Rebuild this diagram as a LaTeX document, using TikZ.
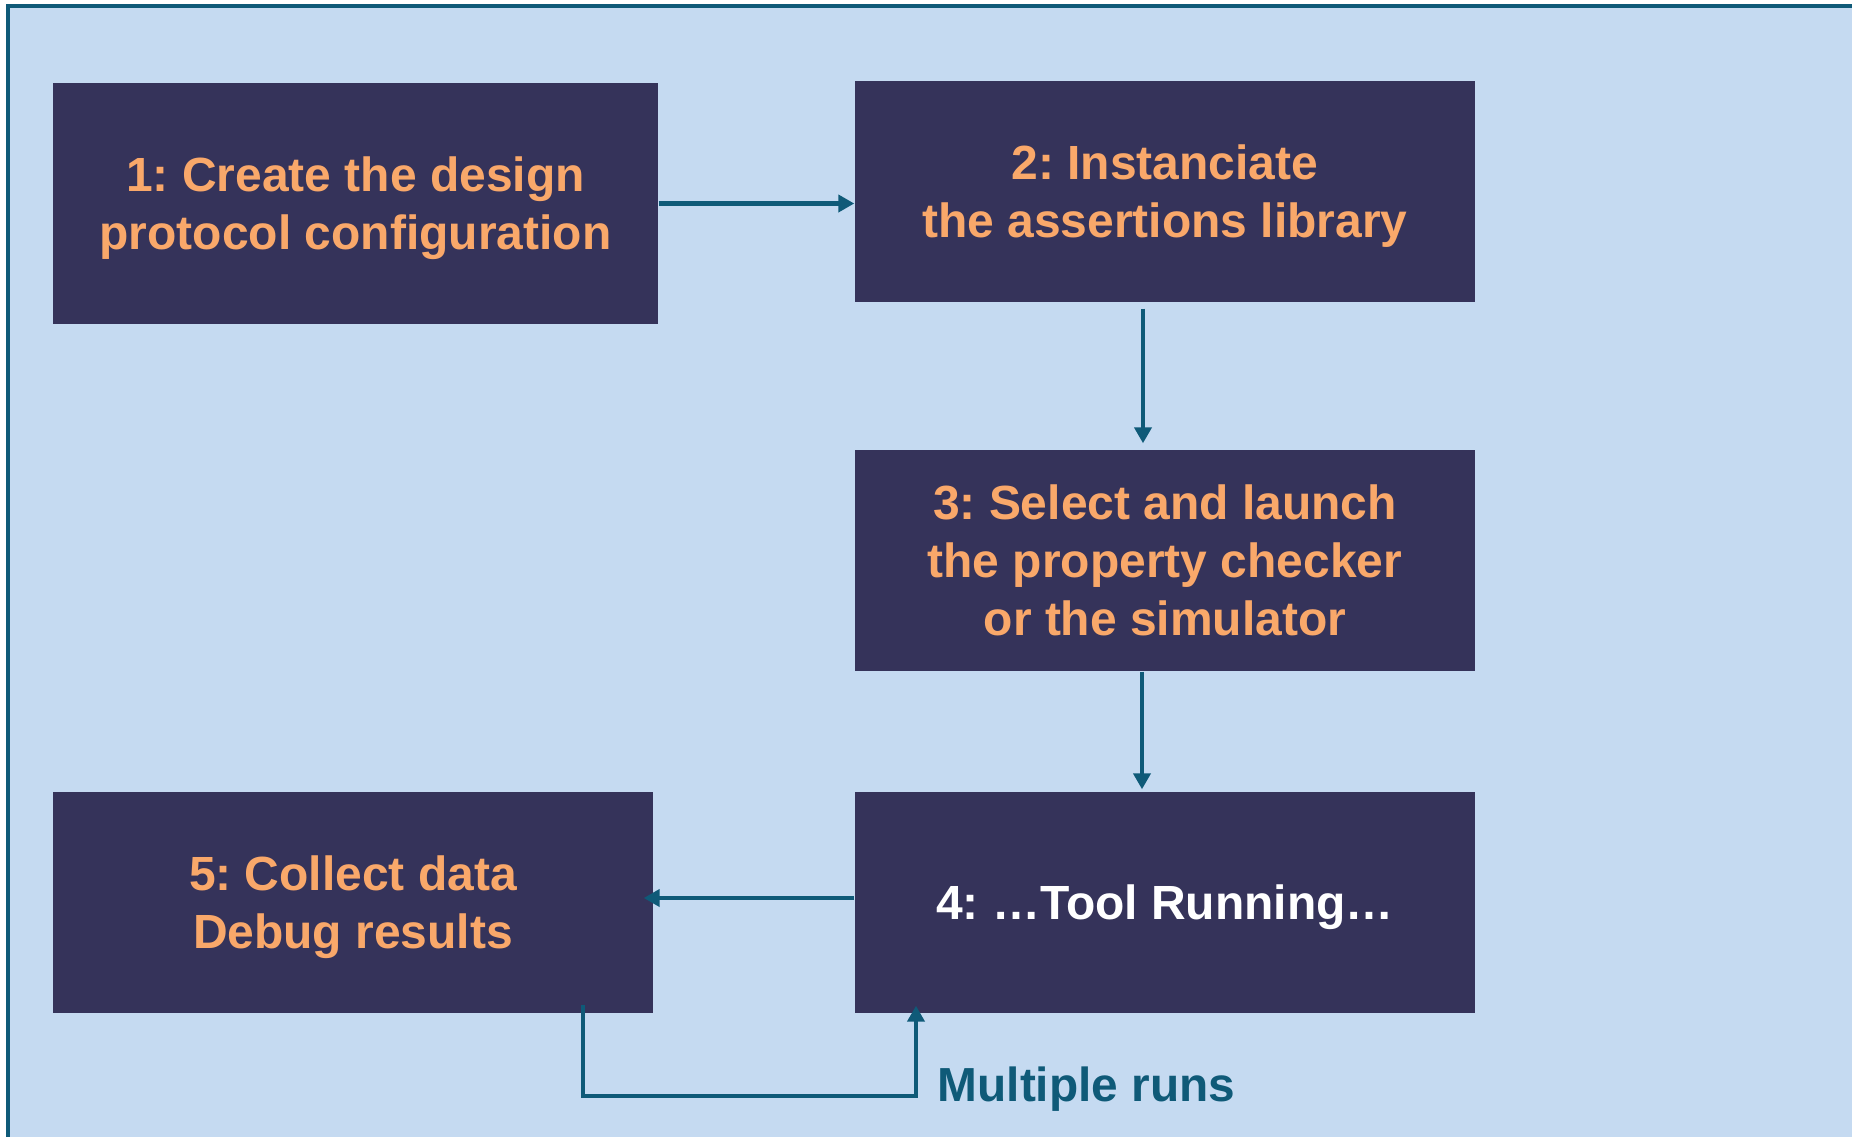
\documentclass[tikz,border=0pt]{standalone}
\usepackage{fontspec}
\setmainfont{Liberation Sans}
\usetikzlibrary{calc}
\usetikzlibrary{positioning}
\usetikzlibrary{arrows.meta}
\frenchspacing
\definecolor{paleBlue}{HTML}{C5DAF1}
\definecolor{stepFill}{HTML}{35335A}
\definecolor{stepText}{HTML}{F9A86A}
\definecolor{flowTeal}{HTML}{0F5A78}
\tikzset{
  stepBox/.style={%
    rectangle, fill=stepFill, text=stepText, align=center, inner sep=0pt,
    minimum width=6.2cm, minimum height=2.21cm, text depth=-0.05cm,
    font=\bfseries\fontsize{13.65}{16.5}\selectfont,
  },
  flowArrow/.style={%
    draw=flowTeal, line width=1.15pt, -{Triangle[length=0.16cm,width=0.17cm]},
  }
}

\begin{document}
\begin{tikzpicture}

          \useasboundingbox (0,0) rectangle (18.52,-11.37);
          \fill[paleBlue] (0.08,-0.06) rectangle (18.52,-11.37);
          \draw[flowTeal, line width=0.9pt] (0.08,-11.37) -- (0.08,-0.06) -- (18.52,-0.06);

          \node[stepBox,minimum width=6.05cm,minimum height=2.41cm] (step1) at (3.555,-2.035) {1: Create the design\\protocol configuration} ;
          \node[stepBox] (step2) at (11.65,-1.915) {2: Instanciate\\the assertions library} ;
          \node[stepBox] (step3) at (11.65,-5.605) {3: Select and launch\\the property checker\\or the simulator} ;
          \node[stepBox,text=white] (step4) at (11.65,-9.025) {4: …Tool Running…} ;
          \node[stepBox,minimum width=6.0cm] (step5) at (3.53,-9.025) {5: Collect data\\Debug results} ;

          \node[anchor=base west,inner sep=0pt,text=flowTeal,font=\bfseries\fontsize{13.6}{16}\selectfont] (runsLabel) at (9.37,-11.01) {Multiple runs} ;

          \draw[flowArrow] (step1.east) -- (step1.east -| step2.west);
          \draw[flowArrow] ($(step2.south)+(-0.22,-0.06)$) -- ($(step3.north)+(-0.22,0.06)$);
          \draw[flowArrow] ($(step3.south)+(-0.23,0)$) -- ($(step4.north)+(-0.23,0.02)$);
          \draw[flowArrow] ($(step4.west)+(0,0.045)$) -- ($(step5.east)+(-0.1,0.045)$);
          \draw[flowArrow] ($(step5.south)+(2.30,0.09)$) -- ++(0,-0.91) -| ($(step4.south)+(-2.49,0.08)$);

        \end{tikzpicture}
\end{document}
